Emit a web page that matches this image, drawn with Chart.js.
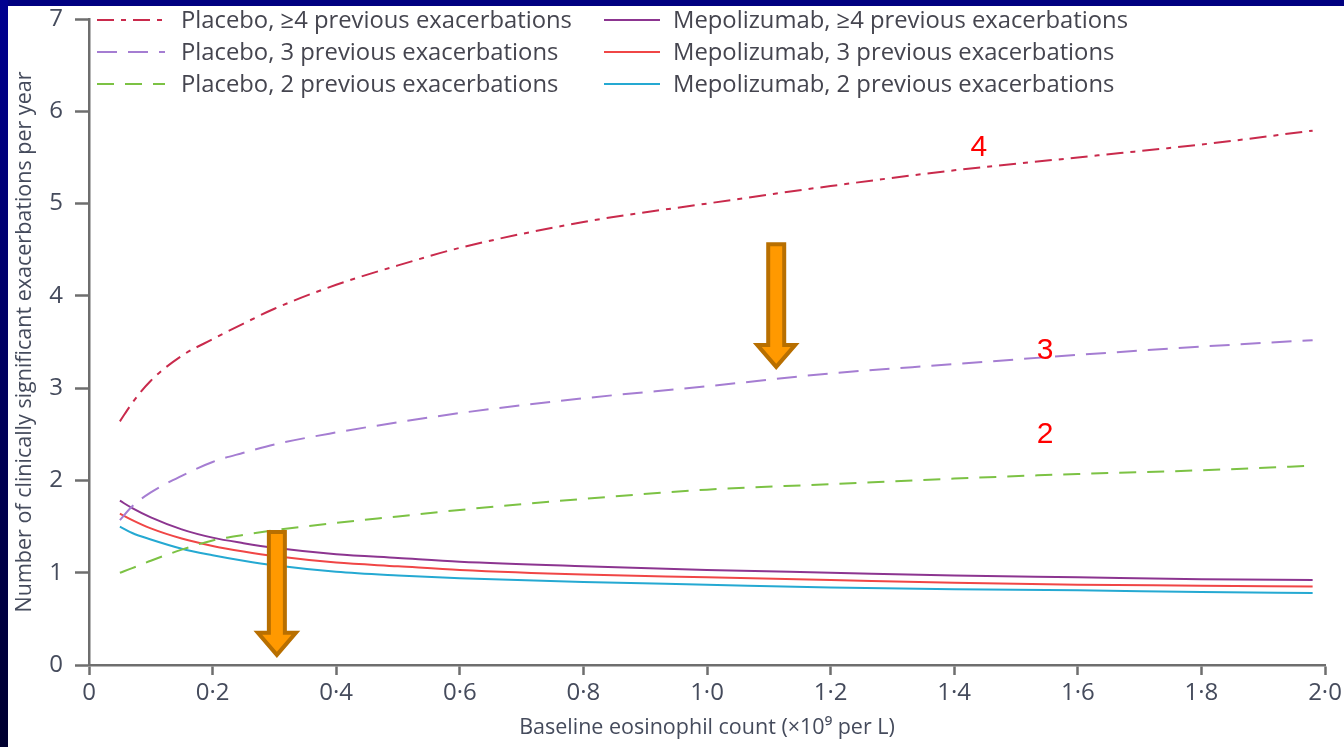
<!DOCTYPE html>
<html>
<head>
<meta charset="utf-8">
<script src="https://cdn.jsdelivr.net/npm/chart.js@4.4.1/dist/chart.umd.min.js"></script>
<style>
  html, body { margin: 0; padding: 0; width: 1344px; height: 747px; overflow: hidden; background: #000080; }
  #leftbar { position: absolute; left: 0; top: 0; width: 8px; height: 747px; background: linear-gradient(#000090, #000030); }
  #wrap { position: absolute; left: 8px; top: 6px; width: 1336px; height: 741px; background: #fff; }
</style>
</head>
<body>
<div id="leftbar"></div>
<div id="wrap"><canvas id="chart" width="1336" height="741"></canvas></div>
<script>
// eosinophil count (x10^9 per L)
const eosinophils = [0.05, 0.07, 0.1, 0.15, 0.2, 0.25, 0.3, 0.4, 0.5, 0.6, 0.8, 1.0, 1.2, 1.4, 1.6, 1.8, 1.98];

const placebo4 = [2.64, 2.84, 3.08, 3.35, 3.53, 3.70, 3.86, 4.12, 4.33, 4.52, 4.80, 5.00, 5.19, 5.36, 5.50, 5.64, 5.79];
const placebo3 = [1.57, 1.72, 1.87, 2.05, 2.20, 2.30, 2.39, 2.52, 2.63, 2.73, 2.89, 3.02, 3.16, 3.26, 3.36, 3.45, 3.52];
const placebo2 = [1.00, 1.05, 1.13, 1.25, 1.35, 1.41, 1.46, 1.54, 1.61, 1.68, 1.80, 1.90, 1.96, 2.02, 2.07, 2.11, 2.16];
const mepo4 = [1.78, 1.70, 1.60, 1.47, 1.38, 1.32, 1.27, 1.20, 1.16, 1.12, 1.07, 1.03, 1.00, 0.97, 0.95, 0.93, 0.92];
const mepo3 = [1.64, 1.57, 1.48, 1.37, 1.29, 1.23, 1.18, 1.11, 1.07, 1.03, 0.98, 0.95, 0.92, 0.89, 0.87, 0.86, 0.85];
const mepo2 = [1.50, 1.43, 1.36, 1.26, 1.19, 1.13, 1.08, 1.01, 0.97, 0.94, 0.90, 0.87, 0.84, 0.82, 0.81, 0.79, 0.78];

const seriesNames = [
  'Placebo, \u22654 previous exacerbations',
  'Placebo, 3 previous exacerbations',
  'Placebo, 2 previous exacerbations',
  'Mepolizumab, \u22654 previous exacerbations',
  'Mepolizumab, 3 previous exacerbations',
  'Mepolizumab, 2 previous exacerbations'
];

const xTickLabels = ['0', '0\u00b72', '0\u00b74', '0\u00b76', '0\u00b78', '1\u00b70', '1\u00b72', '1\u00b74', '1\u00b76', '1\u00b78', '2\u00b70'];
const yTickLabels = ['0', '1', '2', '3', '4', '5', '6', '7'];

// annotation marks: arrows [x, yFrom, yTo] and labels [text, x, y]
const arrows = [[1.112, 4.56, 3.23], [0.304, 1.44, 0.11]];
const curveLabels = [['4', 1.44, 5.60], ['3', 1.547, 3.41], ['2', 1.547, 2.49]];

const toPoints = (ys) => eosinophils.map((x, i) => ({ x: x, y: ys[i] }));

const styles = [
  { color: '#c92a4c', dash: [17, 7, 5, 7] },
  { color: '#a57dd2', dash: [20, 11] },
  { color: '#7cc244', dash: [17, 11] },
  { color: '#8c3590', dash: [] },
  { color: '#f04646', dash: [] },
  { color: '#25a9d2', dash: [] }
];

const allSeries = [placebo4, placebo3, placebo2, mepo4, mepo3, mepo2];

const datasets = allSeries.map((s, i) => ({
  label: seriesNames[i],
  data: toPoints(s),
  borderColor: styles[i].color,
  borderDash: styles[i].dash,
  borderWidth: 2,
  pointRadius: 0,
  fill: false,
  showLine: true,
  cubicInterpolationMode: 'monotone'
}));

const textColor = '#454b5c';
const axisColor = '#6e6e6e';

const legendPlugin = {
  id: 'twoColLegend',
  afterDraw(chart) {
    const ctx = chart.ctx;
    const cols = [{ x0: 89, x1: 157, tx: 173 }, { x0: 596, x1: 652, tx: 665 }];
    const rows = [14, 46, 78];
    ctx.save();
    ctx.font = '23.8px "Open Sans"';
    ctx.textBaseline = 'middle';
    chart.data.datasets.forEach((ds, i) => {
      const c = cols[Math.floor(i / 3)];
      const y = rows[i % 3];
      ctx.strokeStyle = ds.borderColor;
      ctx.lineWidth = 2;
      ctx.setLineDash(ds.borderDash);
      ctx.beginPath();
      ctx.moveTo(c.x0, y);
      ctx.lineTo(c.x1, y);
      ctx.stroke();
      ctx.setLineDash([]);
      ctx.fillStyle = '#45454f';
      ctx.fillText(ds.label, c.tx, y + 1);
    });
    ctx.restore();
  }
};

const annotationPlugin = {
  id: 'arrowsAndLabels',
  afterDatasetsDraw(chart) {
    const ctx = chart.ctx;
    const xs = chart.scales.x;
    const ys = chart.scales.y;
    ctx.save();
    arrows.forEach(([x, y0, y1]) => {
      const cx = xs.getPixelForValue(x);
      const top = ys.getPixelForValue(y0);
      const tip = ys.getPixelForValue(y1);
      const sw = 8, hw = 19, hh = 22;
      ctx.beginPath();
      ctx.moveTo(cx - sw, top);
      ctx.lineTo(cx + sw, top);
      ctx.lineTo(cx + sw, tip - hh);
      ctx.lineTo(cx + hw, tip - hh);
      ctx.lineTo(cx, tip);
      ctx.lineTo(cx - hw, tip - hh);
      ctx.lineTo(cx - sw, tip - hh);
      ctx.closePath();
      ctx.fillStyle = '#ff9900';
      ctx.fill();
      ctx.strokeStyle = '#b86f00';
      ctx.lineWidth = 4;
      ctx.lineJoin = 'miter';
      ctx.stroke();
    });
    ctx.font = '30px "Liberation Sans", Arial, sans-serif';
    ctx.fillStyle = '#ff0000';
    ctx.textAlign = 'center';
    ctx.textBaseline = 'middle';
    curveLabels.forEach(([t, x, y]) => {
      ctx.fillText(t, xs.getPixelForValue(x), ys.getPixelForValue(y));
    });
    ctx.restore();
  }
};

const ctx = document.getElementById('chart').getContext('2d');
new Chart(ctx, {
  type: 'scatter',
  data: { datasets: datasets },
  options: {
    responsive: false,
    animation: false,
    layout: { padding: { top: 13, right: 19, left: 0, bottom: 6 } },
    plugins: { legend: { display: false }, tooltip: { enabled: false } },
    scales: {
      x: {
        type: 'linear',
        min: 0,
        max: 2,
        afterBuildTicks: (scale) => { scale.ticks = xTickLabels.map((l, i) => ({ value: i * 0.2 })); },
        afterFit: (scale) => { scale.height = 76; scale.paddingLeft = 0; scale.paddingRight = 0; },
        grid: { drawOnChartArea: false, drawTicks: true, tickLength: 10, tickWidth: 2.5, color: axisColor },
        border: { display: true, color: axisColor, width: 2.5 },
        ticks: {
          padding: 4,
          color: textColor,
          font: { family: 'Open Sans', size: 24 },
          maxRotation: 0,
          autoSkip: false,
          callback: (v, i) => xTickLabels[i]
        },
        title: {
          display: true,
          text: 'Baseline eosinophil count (\u00d710\u2079 per L)',
          color: textColor,
          font: { family: 'Open Sans', size: 21.5 },
          padding: { top: 0, bottom: 0 }
        }
      },
      y: {
        min: 0,
        max: 7,
        afterFit: (scale) => { scale.width = 81; scale.paddingTop = 0; scale.paddingBottom = 0; },
        grid: { drawOnChartArea: false, drawTicks: true, tickLength: 14, tickWidth: 2.5, color: axisColor },
        border: { display: true, color: axisColor, width: 2.5 },
        ticks: {
          stepSize: 1,
          padding: 12,
          color: textColor,
          font: { family: 'Open Sans', size: 24 },
          callback: (v) => yTickLabels[v]
        },
        title: {
          display: true,
          text: 'Number of clinically significant exacerbations per year',
          color: textColor,
          font: { family: 'Open Sans', size: 21.5 },
          padding: { bottom: 0 }
        }
      }
    }
  },
  plugins: [annotationPlugin, legendPlugin]
});
</script>
</body>
</html>
